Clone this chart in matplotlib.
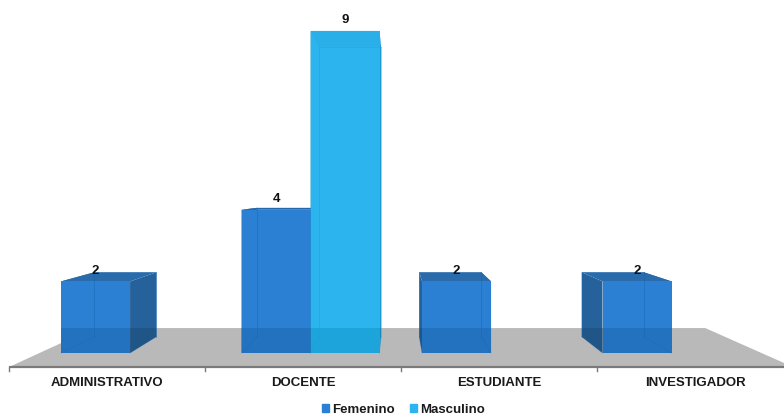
import matplotlib
matplotlib.use('Agg')
import matplotlib.pyplot as plt
from matplotlib.patches import Patch

plt.rcParams['font.family'] = ['Liberation Sans', 'DejaVu Sans']

# Data
categories = ['ADMINISTRATIVO', 'DOCENTE', 'ESTUDIANTE', 'INVESTIGADOR']
femenino = [2, 4, 2, 2]
masculino = [None, 9, None, None]

# Perspective setup, everything is in figure pixels
vp_x, vp_y = 394, 190
base_y = 353
unit = 35.8
bar_w = 69
bar_shift = 0.3
slot_w = 180.5
slot_start = -354.5
back_s = 0.90
floor_front_s = 1.086
floor_back_s = 0.847


def project(x, v, s=1.0):
    return vp_x + x * s, vp_y + (base_y - vp_y - v * unit) * s


def face(ax, pts, color, alpha=1.0, z=2):
    xs, ys = zip(*[project(*p) for p in pts])
    ax.fill(xs, ys, facecolor=color, edgecolor='none', alpha=alpha, zorder=z)


def draw_bar(ax, x0, v, front, side, top, edge, shade, z):
    x1 = x0 + bar_w
    s = back_s
    floor_y = project(0, 0, floor_back_s)[1]
    # side walls, then an opaque front panel on top of them
    for xe in (x0, x1):
        face(ax, [(xe, 0, 1), (xe, v, 1), (xe, v, s), (xe, 0, s)], side, 1.0, z)
        fx, fy = project(xe, 0, 1)
        bx, by = project(xe, 0, s)
        ax.fill([fx, bx, bx, fx], [fy, by, floor_y, floor_y], facecolor='black',
                edgecolor='none', alpha=0.12, zorder=z + 0.01)
    top_inside = project(0, v, s)[1] > project(0, v, 1)[1]
    if not top_inside:
        face(ax, [(x0, v, 1), (x1, v, 1), (x1, v, s), (x0, v, s)], top, 1.0, z)
    face(ax, [(x0, 0, 1), (x1, 0, 1), (x1, v, 1), (x0, v, 1)], front, 1.0, z + 0.1)
    if top_inside:
        face(ax, [(x0, v, 1), (x1, v, 1), (x1, v, s), (x0, v, s)], top, 0.35, z + 0.11)
    # floor showing through the panel
    fl, fy = project(x0, 0, 1)
    fr, _ = project(x1, 0, 1)
    ax.fill([fl, fr, fr, fl], [fy, fy, floor_y, floor_y], facecolor=shade,
            edgecolor='none', alpha=0.45, zorder=z + 0.12)
    # faint back edges showing through the front panel
    for xe in (x0, x1):
        bx, by0 = project(xe, 0, s)
        _, by1 = project(xe, v, s)
        ax.plot([bx, bx], [by0, by1], color=edge, lw=0.7, alpha=0.45, zorder=z + 0.2)
        fx, fy0 = project(xe, 0, 1)
        ax.plot([fx, bx], [fy0, by0], color=edge, lw=0.6, alpha=0.3, zorder=z + 0.2)
    bl, by0 = project(x0, 0, s)
    br, by1 = project(x1, v, s)
    ax.plot([bl, br], [by1, by1], color=edge, lw=0.6, alpha=0.35, zorder=z + 0.2)


fig = plt.figure(figsize=(7.84, 4.17), dpi=100)
ax = fig.add_axes([0, 0, 1, 1])
ax.set_xlim(0, 784)
ax.set_ylim(417, 0)
ax.axis('off')

# Floor
floor_end = slot_start + slot_w * len(categories)
face(ax, [(slot_start, 0, floor_front_s), (floor_end, 0, floor_front_s),
          (floor_end, 0, floor_back_s), (slot_start, 0, floor_back_s)], '#b9b9b9', z=1)

# Bars
for i, cat in enumerate(categories):
    center = slot_start + slot_w * (i + 0.5) + bar_shift
    x_f = center - bar_w
    draw_bar(ax, x_f, femenino[i], '#2b80d4', '#25619a', '#2a6cab', '#1565b0', '#1a62a8', 2 + i)
    lx, ly = project(center - bar_w / 2, femenino[i])
    ax.text(lx, ly - 10.5, str(femenino[i]), ha='center', va='center',
            fontsize=9.5, fontweight='bold', color='#111111', zorder=20)
    if masculino[i] is not None:
        draw_bar(ax, center, masculino[i], '#2bb4ee', '#1c9ad2', '#2aa8e0', '#1d9fd8', '#0a92c4', 2.5 + i)
        lx, ly = project(center + bar_w / 2, masculino[i])
        ax.text(lx, ly - 10.5, str(masculino[i]), ha='center', va='center',
                fontsize=9.5, fontweight='bold', color='#111111', zorder=20)

# Category axis along the front of the floor
axis_y = project(0, 0, floor_front_s)[1]
ax.plot([project(slot_start, 0, floor_front_s)[0], 784], [axis_y, axis_y],
        color='#7a7a7a', lw=1.6, zorder=10, solid_capstyle='butt')
for i in range(len(categories)):
    tx = project(slot_start + slot_w * i, 0, floor_front_s)[0]
    ax.plot([tx, tx], [axis_y, axis_y + 4], color='#7a7a7a', lw=1.0, zorder=10)
    cx = project(slot_start + slot_w * (i + 0.5), 0, floor_front_s)[0]
    ax.text(cx, axis_y + 16, categories[i], ha='center', va='center',
            fontsize=9.5, fontweight='bold', color='#1a1a1a')

handles = [Patch(color='#2b80d4', label='Femenino'), Patch(color='#2bb4ee', label='Masculino')]
ax.legend(handles=handles, loc='center', bbox_to_anchor=(403.5 / 784, 1 - 410 / 417), ncol=2,
          frameon=False, handlelength=0.53, handleheight=0.53, handletextpad=0.25,
          columnspacing=1.14, prop={'size': 9.5, 'weight': 'bold'}, labelcolor='#1a1a1a',
          borderpad=0, borderaxespad=0)

fig.savefig('out.png', dpi=100)
